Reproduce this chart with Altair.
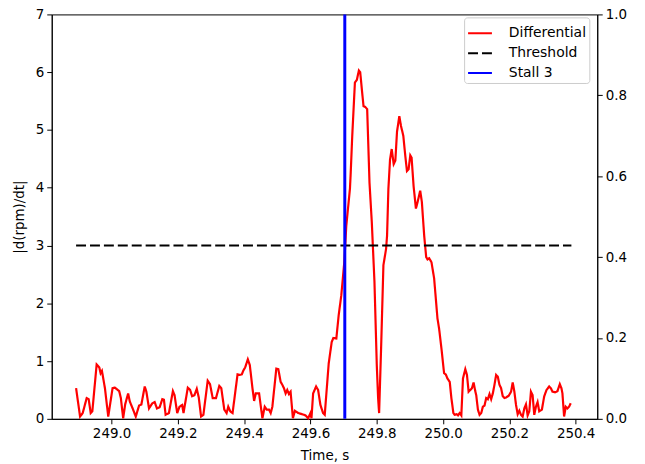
import altair as alt
import pandas as pd

FONT = "DejaVu Sans"

t_diff = [
    248.893, 248.905, 248.913, 248.925, 248.931, 248.937, 248.942, 248.955, 248.963, 248.967,
    248.971, 248.980, 248.990, 249.003, 249.010, 249.023, 249.028, 249.035, 249.041, 249.050,
    249.055, 249.065, 249.073, 249.083, 249.090, 249.100, 249.105, 249.113, 249.123, 249.130,
    249.137, 249.145, 249.153, 249.158, 249.163, 249.173, 249.185, 249.190, 249.198, 249.205,
    249.213, 249.217, 249.230, 249.237, 249.243, 249.250, 249.257, 249.263, 249.270, 249.277,
    249.290, 249.297, 249.305, 249.315, 249.325, 249.331, 249.340, 249.347, 249.352, 249.358,
    249.365, 249.380, 249.387, 249.393, 249.397, 249.403, 249.411, 249.417, 249.425, 249.430,
    249.435, 249.445, 249.455, 249.462, 249.468, 249.475, 249.480, 249.485, 249.497, 249.503,
    249.510, 249.515, 249.520, 249.525, 249.530, 249.535, 249.540, 249.547, 249.553, 249.563,
    249.575, 249.585, 249.593, 249.600, 249.603, 249.608, 249.617, 249.623, 249.630, 249.638,
    249.643, 249.655, 249.664, 249.669, 249.678, 249.685,
    249.693, 249.702, 249.708, 249.714, 249.719, 249.721, 249.726, 249.734, 249.740, 249.746,
    249.750, 249.755, 249.760, 249.765, 249.771, 249.778, 249.785, 249.793, 249.800, 249.804,
    249.807, 249.813, 249.820, 249.828, 249.831, 249.835, 249.840, 249.845, 249.851, 249.856,
    249.861, 249.868, 249.873, 249.880, 249.886, 249.891, 249.896, 249.901, 249.905, 249.911,
    249.918, 249.923, 249.931, 249.936, 249.943, 249.949, 249.953, 249.958, 249.965,
    249.973, 249.983, 249.988, 249.995, 250.003, 250.008, 250.013, 250.020, 250.025, 250.031,
    250.035, 250.041, 250.045, 250.050, 250.055, 250.060, 250.067, 250.072, 250.077, 250.082,
    250.087, 250.092, 250.097, 250.100, 250.105, 250.110, 250.115, 250.120, 250.125, 250.130,
    250.135, 250.140, 250.145, 250.150, 250.155, 250.160, 250.165, 250.170, 250.175, 250.180,
    250.185, 250.190, 250.198, 250.205, 250.210, 250.215, 250.220, 250.225, 250.230, 250.235,
    250.240, 250.245, 250.250, 250.255, 250.260, 250.265, 250.270, 250.275, 250.280, 250.285,
    250.290, 250.298, 250.305, 250.312, 250.320, 250.325, 250.330, 250.338, 250.345, 250.352,
    250.357, 250.360, 250.365, 250.370, 250.375, 250.380, 250.385,
]
v_diff = [
    0.53, 0.04, 0.10, 0.36, 0.34, 0.10, 0.13, 0.94, 0.89, 0.79,
    0.83, 0.53, 0.04, 0.53, 0.54, 0.48, 0.36, 0.01, 0.25, 0.44,
    0.30, 0.16, 0.04, 0.23, 0.25, 0.56, 0.47, 0.18, 0.27, 0.29,
    0.18, 0.20, 0.34, 0.33, 0.07, 0.10, 0.48, 0.41, 0.10, 0.21,
    0.24, 0.10, 0.54, 0.50, 0.39, 0.41, 0.52, 0.37, 0.04, 0.07,
    0.66, 0.60, 0.36, 0.36, 0.57, 0.53, 0.16, 0.10, 0.21, 0.13,
    0.10, 0.77, 0.76, 0.77, 0.83, 0.89, 1.03, 0.93, 0.53, 0.31,
    0.44, 0.44, 0.01, 0.21, 0.16, 0.16, 0.10, 0.21, 0.87, 0.86,
    0.64, 0.59, 0.53, 0.44, 0.50, 0.43, 0.47, 0.01, 0.14, 0.10,
    0.08, 0.06, 0.01, 0.10, 0.01, 0.44, 0.56, 0.50, 0.24, 0.10,
    0.07, 0.96, 1.33, 1.40, 1.39, 1.79,
    2.14, 2.71, 3.34, 3.69, 3.98, 4.21, 4.90, 5.82, 5.87, 6.03,
    6.00, 5.70, 5.41, 5.40, 5.36, 4.09, 3.40, 2.37, 0.93, 0.36,
    0.10, 1.22, 2.66, 2.94, 3.17, 3.98, 4.49, 4.67, 4.41, 4.47,
    4.97, 5.24, 5.07, 4.90, 4.55, 4.29, 4.32, 4.56, 4.52, 4.03,
    3.64, 3.75, 3.95, 3.75, 3.17, 2.80, 2.76, 2.78, 2.71,
    2.43, 1.74, 1.56, 1.22, 0.79, 0.77, 0.70, 0.64, 0.36, 0.10,
    0.07, 0.08, 0.06, 0.10, 0.06, 0.70, 0.86, 0.76, 0.47, 0.50,
    0.53, 0.63, 0.48, 0.41, 0.16, 0.07, 0.10, 0.21, 0.23, 0.36,
    0.34, 0.43, 0.34, 0.44, 0.59, 0.76, 0.73, 0.59, 0.53, 0.39,
    0.36, 0.37, 0.40, 0.47, 0.63, 0.47, 0.24, 0.08, 0.14, 0.07,
    0.04, 0.18, 0.25, 0.06, 0.13, 0.47, 0.41, 0.07, 0.21, 0.29,
    0.13, 0.16, 0.39, 0.50, 0.56, 0.53, 0.47, 0.46, 0.48, 0.60,
    0.53, 0.44, 0.04, 0.21, 0.18, 0.21, 0.27,
]

t_threshold = [248.893, 250.387]
v_threshold = [3.0, 3.0]

t_stall = [249.7035, 249.7035]
v_stall_right = [0.0, 1.0]

series_names = ["Differential", "Threshold", "Stall 3"]
series_colors = ["#ff0000", "#000000", "#0000ff"]
series_dashes = [[1, 0], [10, 4], [1, 0]]

x_ticks = [249.0, 249.2, 249.4, 249.6, 249.8, 250.0, 250.2, 250.4]
y_left_ticks = [0, 1, 2, 3, 4, 5, 6, 7]
y_right_ticks = [0.0, 0.2, 0.4, 0.6, 0.8, 1.0]

df_diff = pd.DataFrame({"t": t_diff, "v": v_diff, "series": "Differential"})
df_thr = pd.DataFrame({"t": t_threshold, "v": v_threshold, "series": "Threshold"})
df_stall = pd.DataFrame({"t": t_stall, "r": v_stall_right, "series": "Stall 3"})

x_enc = alt.X(
    "t:Q",
    scale=alt.Scale(domain=[248.8195, 250.465], nice=False, zero=False),
    axis=alt.Axis(values=x_ticks, format=".1f", title="Time, s", titlePadding=8),
)

color_enc = alt.Color(
    "series:N",
    scale=alt.Scale(domain=series_names, range=series_colors),
    legend=alt.Legend(
        title=None,
        orient="none",
        legendX=415,
        legendY=3,
        symbolType="stroke",
        symbolSize=576,
        symbolStrokeWidth=2,
        labelFont=FONT,
        labelFontSize=14,
        labelColor="#000000",
        labelOffset=16,
        rowPadding=-3,
        padding=3,
        fillColor="#ffffff",
        strokeColor="#cccccc",
        cornerRadius=3,
    ),
)
dash_enc = alt.StrokeDash(
    "series:N",
    scale=alt.Scale(domain=series_names, range=series_dashes),
    legend=alt.Legend(title=None),
)

y_left = alt.Y(
    "v:Q",
    scale=alt.Scale(domain=[0, 7], nice=False, zero=True),
    axis=alt.Axis(values=y_left_ticks, format="d", title="|d(rpm)/dt|", titlePadding=9),
)

diff_line = alt.Chart(df_diff).mark_line(strokeWidth=2.2).encode(
    x=x_enc, y=y_left, color=color_enc, strokeDash=dash_enc
)
thr_line = alt.Chart(df_thr).mark_line(strokeWidth=2.2).encode(
    x=x_enc, y=y_left, color=color_enc, strokeDash=dash_enc
)
stall_line = alt.Chart(df_stall).mark_line(strokeWidth=3).encode(
    x=x_enc,
    y=alt.Y(
        "r:Q",
        scale=alt.Scale(domain=[0, 1], nice=False),
        axis=alt.Axis(values=y_right_ticks, format=".1f", title=None, orient="right"),
    ),
    color=color_enc,
    strokeDash=dash_enc,
)

left = alt.layer(diff_line, thr_line)
chart = (
    alt.layer(left, stall_line)
    .resolve_scale(y="independent")
    .properties(
        width=549,
        height=407,
        autosize=alt.AutoSizeParams(type="none"),
        padding={"left": 44, "top": 5, "right": 40, "bottom": 45},
        background="#ffffff",
    )
    .configure_view(stroke="#000000", strokeWidth=1)
    .configure_axis(
        grid=False,
        domainColor="#000000",
        tickColor="#000000",
        tickSize=5,
        labelFont=FONT,
        labelFontSize=13.5,
        labelColor="#000000",
        labelPadding=3,
        titleFont=FONT,
        titleFontSize=13.5,
        titleFontWeight="normal",
        titleColor="#000000",
    )
)

chart.save("out.html", embed_options={"renderer": "svg", "actions": False})
